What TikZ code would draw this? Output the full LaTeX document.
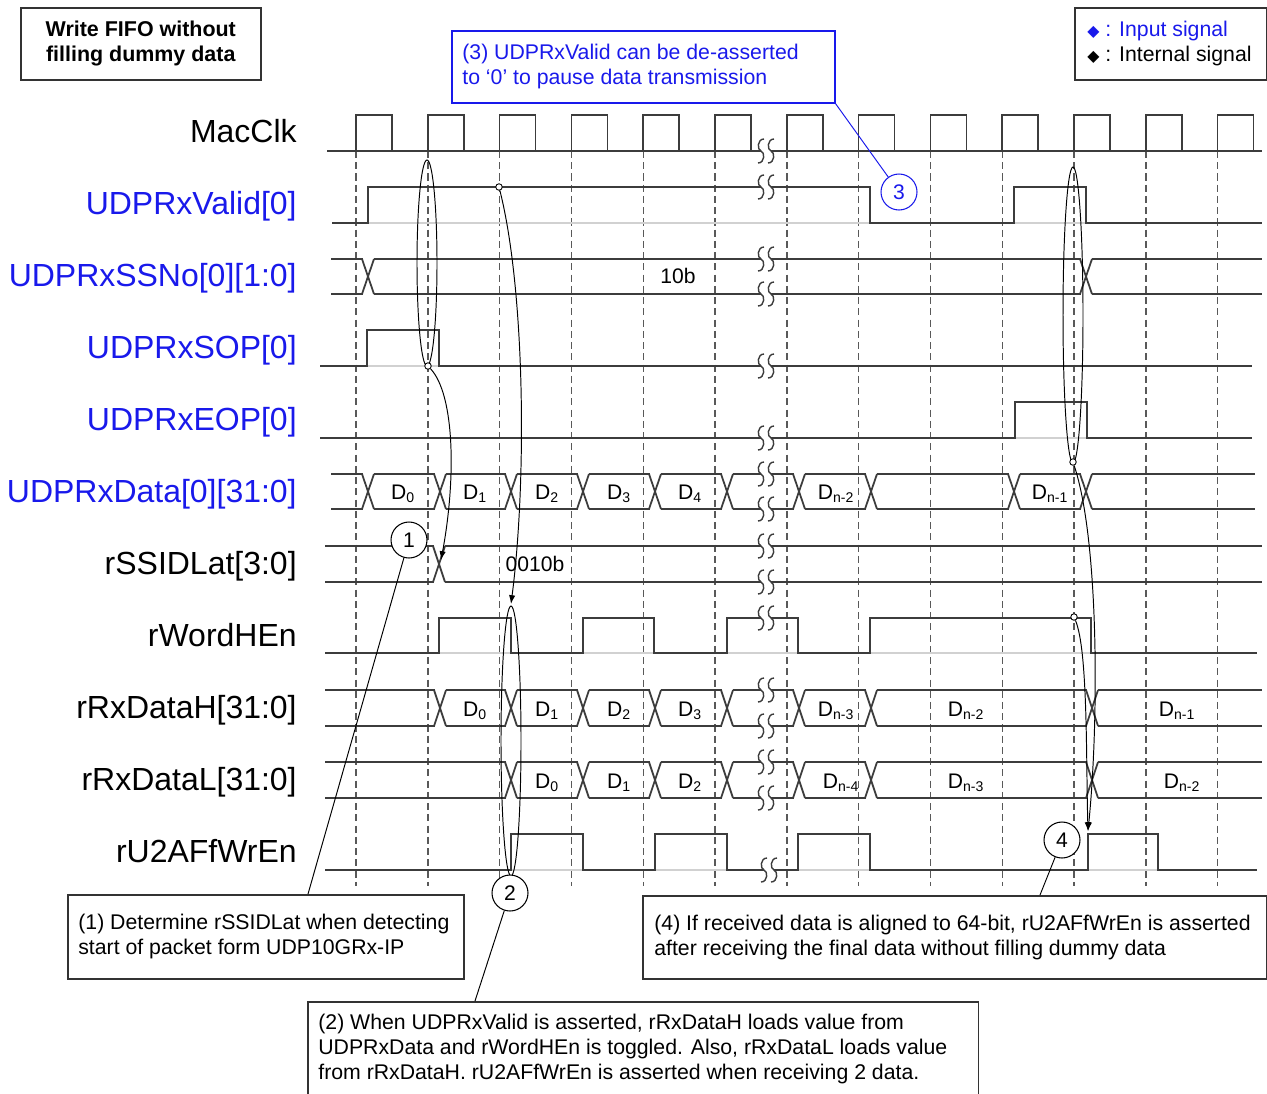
\documentclass[tikz,border=0pt]{standalone}
\usepackage{fontspec}
\setmainfont{Liberation Sans}
\newfontfamily\symfont{DejaVu Sans}
\usetikzlibrary{arrows.meta,positioning}
\definecolor{inblue}{RGB}{25,25,235}
\definecolor{wave}{RGB}{60,60,60}
\tikzset{
  sig/.style={draw=wave, line width=1pt},
  base/.style={draw=black!18, line width=1pt},
  grid/.style={draw=black!65, line width=0.8pt, dash pattern=on 4pt off 2.4pt},
  conn/.style={draw=black, line width=0.55pt},
  arr/.style={conn, -{Latex[length=5pt,width=3.6pt]}},
  dot/.style={circle, draw=black, fill=white, line width=0.5pt, inner sep=0pt, minimum size=0.13cm},
  callout/.style={circle, draw=black, line width=0.6pt, fill=white, inner sep=0pt, minimum size=0.72cm, font=\fontsize{12}{12}\selectfont},
  lbl/.style={anchor=base east, inner sep=0pt, font=\fontsize{18.2}{20}\selectfont},
  inlbl/.style={lbl, text=inblue},
  val/.style={anchor=base, inner sep=0pt, font=\fontsize{12}{12}\selectfont},
  notebox/.style={draw=black!80, line width=0.9pt, inner sep=0pt},
  notetext/.style={anchor=west, align=left, inner sep=0pt, font=\fontsize{12.1}{14.2}\selectfont}
}
\newcommand{\dv}[1]{D\textsubscript{#1}}
\newcommand{\dia}{{\symfont\fontsize{9}{9}\selectfont ◆}}
\newcommand{\busX}[3]{%
  \draw[white, line width=2pt] (#1-5.5,#2) -- (#1+5.5,#2) (#1-5.5,#3) -- (#1+5.5,#3);
  \draw[sig] (#1-6,#2) -- (#1+6,#3) (#1-6,#3) -- (#1+6,#2);
}
\newcommand{\wbreak}[2]{%
  \fill[white] (#1,#2-3) rectangle (#1+10,#2+3);
  \foreach \c in {#1,#1+10}
    \draw[sig, line width=0.8pt] (\c+3,#2-12) .. controls (\c-4,#2-12) and (\c-4,#2-1) .. (\c,#2)
      .. controls (\c+4,#2+1) and (\c+4,#2+12) .. (\c-3,#2+12);
}
\begin{document}
\begin{tikzpicture}[x=0.02cm,y=-0.02cm]
\useasboundingbox (0,0) rectangle (1267,1093);

\foreach \k in {0,...,12}
  \draw[grid] (356+71.8*\k,151) -- (356+71.8*\k,886);

% MacClk
\draw[sig] (327,151) -- (1262,151);
\foreach \k in {0,...,12}
  \draw[sig] (356+71.8*\k,151) -- (356+71.8*\k,115) -- (392+71.8*\k,115) -- (392+71.8*\k,151);
\wbreak{761}{151}

% UDPRxValid
\draw[base] (332,223) -- (1262,223);
\draw[sig] (332,223) -- (368,223) -- (368,187) -- (870,187) -- (870,223) -- (1014,223) -- (1014,187) -- (1086,187) -- (1086,223) -- (1262,223);
\wbreak{761}{187}

% UDPRxSSNo
\draw[sig] (331,259) -- (1262,259) (331,294) -- (1262,294);
\foreach \t in {368,1086} {\busX{\t}{259}{294}}
\wbreak{761}{259}
\wbreak{761}{294}

% UDPRxSOP
\draw[base] (320,366) -- (1252,366);
\draw[sig] (320,366) -- (367,366) -- (367,330) -- (439,330) -- (439,366) -- (1252,366);
\wbreak{761}{366}

% UDPRxEOP
\draw[base] (320,438) -- (1252,438);
\draw[sig] (320,438) -- (1015,438) -- (1015,402) -- (1087,402) -- (1087,438) -- (1252,438);
\wbreak{761}{438}

% UDPRxData
\draw[sig] (331,474) -- (1255,474) (331,509) -- (1255,509);
\foreach \t in {368,440,511,583,655,727,799,871,1014,1086} {\busX{\t}{474}{509}}
\wbreak{761}{474}
\wbreak{761}{509}

% rSSIDLat
\draw[sig] (325,546) -- (1262,546) (325,582) -- (1262,582);
\busX{439}{546}{582}
\wbreak{761}{546}
\wbreak{761}{582}

% rWordHEn
\draw[base] (325,653) -- (1257,653);
\draw[sig] (325,653) -- (439,653) -- (439,618) -- (511,618) -- (511,653) -- (583,653) -- (583,618) -- (654,618) -- (654,653) -- (727,653) -- (727,618) -- (798,618) -- (798,653) -- (870,653) -- (870,618) -- (1091,618) -- (1091,653) -- (1257,653);
\wbreak{761}{618}

% rRxDataH
\draw[sig] (325,690) -- (1262,690) (325,726) -- (1262,726);
\foreach \t in {440,511,583,655,727,799,871,1092} {\busX{\t}{690}{726}}
\wbreak{761}{690}
\wbreak{761}{726}

% rRxDataL
\draw[sig] (325,762) -- (1262,762) (325,798) -- (1262,798);
\foreach \t in {511,583,655,727,799,871,1092} {\busX{\t}{762}{798}}
\wbreak{761}{762}
\wbreak{761}{798}

% rU2AFfWrEn
\draw[base] (325,870) -- (1257,870);
\draw[sig] (325,870) -- (511,870) -- (511,834) -- (583,834) -- (583,870) -- (655,870) -- (655,834) -- (727,834) -- (727,870) -- (798,870) -- (798,834) -- (870,834) -- (870,870) -- (1088,870) -- (1088,834) -- (1158,834) -- (1158,870) -- (1257,870);
\wbreak{764}{870}

% signal names
\node[lbl] (lClk) at (297,142) {MacClk};
\node[inlbl] (lValid) at (297,214) {UDPRxValid[0]};
\node[inlbl] (lSSNo) at (297,286) {UDPRxSSNo[0][1:0]};
\node[inlbl] (lSOP) at (297,358) {UDPRxSOP[0]};
\node[inlbl] (lEOP) at (297,430) {UDPRxEOP[0]};
\node[inlbl] (lData) at (297,502) {UDPRxData[0][31:0]};
\node[lbl] (lSSID) at (297,574) {rSSIDLat[3:0]};
\node[lbl] (lWordH) at (297,646) {rWordHEn};
\node[lbl] (lDataH) at (297,718) {rRxDataH[31:0]};
\node[lbl] (lDataL) at (297,790) {rRxDataL[31:0]};
\node[lbl] (lWrEn) at (297,862) {rU2AFfWrEn};

% values
\node[val] (vSSNo) at (678,283) {10b};
\node[val] (vSSID) at (535,571) {0010b};
\foreach \x/\s [count=\i] in {403/0,475/1,547/2,619/3,690/4,836/n-2,1050/n-1}
  \node[val] (dA\i) at (\x,499) {\dv{\s}};
\foreach \x/\s [count=\i] in {475/0,547/1,619/2,690/3,836/n-3,966/n-2,1177/n-1}
  \node[val] (dH\i) at (\x,716) {\dv{\s}};
\foreach \x/\s [count=\i] in {547/0,619/1,690/2,841/n-4,966/n-3,1182/n-2}
  \node[val] (dL\i) at (\x,788) {\dv{\s}};

% ellipses
\draw[conn] (427,263) ellipse [x radius=10, y radius=103];
\draw[conn] (511,741) ellipse [x radius=10, y radius=135];
\draw[conn] (1073,315) ellipse [x radius=10, y radius=148];

% arrows
\coordinate (ssidarr) at (441,560);
\coordinate (wordarr) at (511,604);
\coordinate (wrarr) at (1088,831);
\node[dot] (vdot) at (499,187) {};
\node[dot] (sopdot) at (428,366) {};
\node[dot] (datdot) at (1073,462) {};
\node[dot] (wdot) at (1074,617) {};
\draw[arr] (sopdot) .. controls (455,395) and (456,480) .. (ssidarr);
\draw[arr] (vdot) .. controls (525,290) and (527,480) .. (wordarr);
\draw[arr] (datdot) .. controls (1099,540) and (1099,720) .. (wrarr);
\draw[arr] (wdot) .. controls (1088,650) and (1086,760) .. (wrarr);

% notes
\node[notebox, anchor=north west, minimum width=4.8cm, minimum height=1.44cm, align=center, font=\bfseries\fontsize{12.2}{14.3}\selectfont] (title) at (20,7) {Write FIFO without\\filling dummy data};

\node[notebox, anchor=north west, minimum width=3.84cm, minimum height=1.44cm] (legbox) at (1074,7) {};
\node[notetext] (legtxt) at ([xshift=0.26cm]legbox.west) {{\color{inblue}\dia\ : Input signal}\\\dia\ : Internal signal};

\node[notebox, draw=inblue, anchor=north west, minimum width=7.66cm, minimum height=1.44cm] (b3) at (451,30) {};
\node[notetext, text=inblue] (t3) at ([xshift=0.22cm]b3.west) {(3) UDPRxValid can be de-asserted\\to ‘0’ to pause data transmission};

\node[notebox, anchor=north west, minimum width=7.92cm, minimum height=1.68cm] (b1) at (67,894) {};
\node[notetext] (t1) at ([xshift=0.22cm]b1.west) {(1) Determine rSSIDLat when detecting\\start of packet form UDP10GRx-IP};

\node[notebox, anchor=north west, minimum width=12.48cm, minimum height=1.66cm] (b4) at (642,895) {};
\node[notetext] (t4) at ([xshift=0.24cm]b4.west) {(4) If received data is aligned to 64-bit, rU2AFfWrEn is asserted\\after receiving the final data without filling dummy data};

\node[notebox, anchor=north west, minimum width=13.42cm, minimum height=1.9cm] (b2) at (307,1001) {};
\node[notetext] (t2) at ([xshift=0.22cm]b2.west) {(2) When UDPRxValid is asserted, rRxDataH loads value from\\UDPRxData and rWordHEn is toggled. Also, rRxDataL loads value\\from rRxDataH. rU2AFfWrEn is asserted when receiving 2 data.};

% callouts
\coordinate (p1) at (308,894);
\coordinate (p2) at (475,1001);
\coordinate (p4) at (1040,895);
\node[callout] (c1) at (409,540) {1};
\node[callout] (c2) at (510,893) {2};
\node[callout, draw=inblue, text=inblue] (c3) at (899,192) {3};
\node[callout] (c4) at (1062,840) {4};
\draw[conn] (c1) -- (p1);
\draw[conn] (c2) -- (p2);
\draw[conn, draw=inblue] (c3) -- (b3.south east);
\draw[conn] (c4) -- (p4);
\end{tikzpicture}
\end{document}
